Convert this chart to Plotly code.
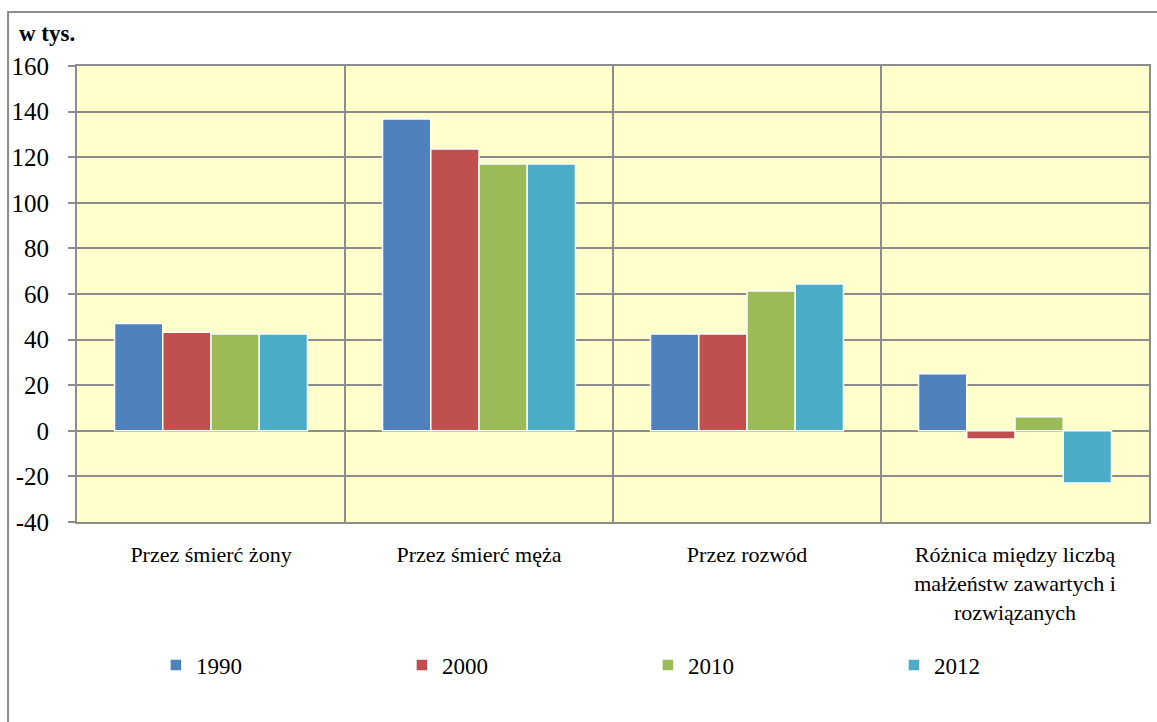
import plotly.graph_objects as go

# kategorie rozwiązań małżeństw
categories = [
    "Przez śmierć żony",
    "Przez śmierć męża",
    "Przez rozwód",
    "Różnica między liczbą<br>małżeństw zawartych i<br>rozwiązanych",
]

# wartości w tys.
values_1990 = [47.1, 136.8, 42.5, 25.0]
values_2000 = [43.2, 123.6, 42.5, -3.6]
values_2010 = [42.5, 117.0, 61.3, 6.2]
values_2012 = [42.5, 117.0, 64.4, -22.9]

years = ["1990", "2000", "2010", "2012"]
colors = ["#4F81BD", "#C0504D", "#9BBB59", "#4BACC6"]

# etykiety osi Y (ze zwykłym łącznikiem jak w oryginale)
y_ticks = [-40, -20, 0, 20, 40, 60, 80, 100, 120, 140, 160]
y_labels = ["-40", "-20", "0", "20", "40", "60", "80", "100", "120", "140", "160"]

fig = go.Figure()

for name, vals, col in zip(years, [values_1990, values_2000, values_2010, values_2012], colors):
    fig.add_trace(go.Bar(
        x=categories,
        y=vals,
        name=name,
        marker=dict(color=col, line=dict(color="white", width=1.5)),
    ))

font_family = "Liberation Serif"
grid_col = "#8C8C8C"

fig.update_layout(
    width=1157,
    height=722,
    margin=dict(l=77, r=6, t=66, b=200),
    paper_bgcolor="white",
    plot_bgcolor="#FFFFCC",
    barmode="group",
    bargap=0.28,
    bargroupgap=0,
    font=dict(family=font_family, size=22, color="black"),
    showlegend=True,
    legend=dict(
        orientation="h",
        x=0.0736,
        xanchor="left",
        y=-0.3136,
        yanchor="middle",
        entrywidth=201,
        entrywidthmode="pixels",
        itemwidth=30,
        font=dict(family=font_family, size=23, color="black"),
        bgcolor="rgba(0,0,0,0)",
    ),
    annotations=[dict(
        text="<b>w tys.</b>",
        xref="paper", yref="paper",
        x=-0.0559, y=1.072,
        xanchor="left", yanchor="middle",
        showarrow=False,
        font=dict(family=font_family, size=23),
    )],
    shapes=[dict(
        type="rect",
        xref="paper", yref="paper",
        x0=-0.0643, x1=1.0088, y0=-0.445, y1=1.1184,
        line=dict(color="#8C8C8C", width=2),
        fillcolor="rgba(0,0,0,0)",
        layer="below",
    )],
)

fig.update_xaxes(
    type="category",
    tickson="boundaries",
    showgrid=True,
    gridcolor=grid_col,
    gridwidth=2,
    showline=True,
    linecolor=grid_col,
    linewidth=2,
    mirror=True,
    ticks="",
    ticklabelstandoff=12,
    tickfont=dict(family=font_family, size=22, color="black"),
)

fig.update_yaxes(
    range=[-40, 160],
    tickvals=y_ticks,
    ticktext=y_labels,
    showgrid=True,
    gridcolor=grid_col,
    gridwidth=2,
    zeroline=True,
    zerolinecolor=grid_col,
    zerolinewidth=2,
    showline=True,
    linecolor=grid_col,
    linewidth=2,
    mirror=True,
    ticks="outside",
    ticklen=7,
    tickcolor=grid_col,
    tickwidth=2,
    ticklabelstandoff=14,
    tickfont=dict(family=font_family, size=25, color="black"),
)

# bez domyślnego marginesu strony, żeby wykres zaczynał się w rogu okna
fig.write_html(
    "out.html",
    config={"displayModeBar": False},
    post_script="document.body.style.margin='0';",
)
